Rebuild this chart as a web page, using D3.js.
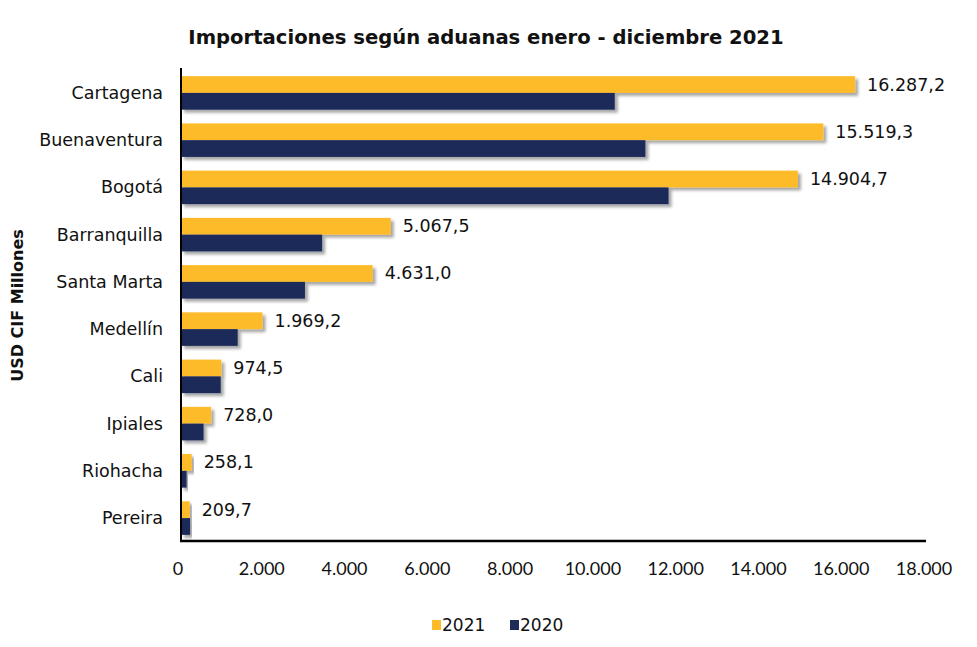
<html>
<head>
<meta charset="utf-8">
<script src="https://d3js.org/d3.v7.min.js"></script>
<style>
  body { margin: 0; background: white; }
  text { font-family: "DejaVu Sans", sans-serif; fill: #111; }
  .tick-label { font-family: "Lato", sans-serif; }
</style>
</head>
<body>
<svg id="chart"></svg>
<script>
// datos (USD CIF millones)
var aduanas = ["Cartagena", "Buenaventura", "Bogotá", "Barranquilla", "Santa Marta",
               "Medellín", "Cali", "Ipiales", "Riohacha", "Pereira"];
var valores2021 = [16287.2, 15519.3, 14904.7, 5067.5, 4631.0, 1969.2, 974.5, 728.0, 258.1, 209.7];
var valores2020 = [10480, 11220, 11780, 3410, 2995, 1370, 960, 545, 135, 220];
var series = ["2021", "2020"];
var ticks = [0, 2000, 4000, 6000, 8000, 10000, 12000, 14000, 16000, 18000];

var width = 977, height = 647;
var margins = { left: 181, right: 51, top: 70, bottom: 106 };

var svg = d3.select("#chart").attr("width", width).attr("height", height);

var es = d3.formatLocale({ decimal: ",", thousands: ".", grouping: [3], currency: ["", ""] });
var fmtLabel = es.format(",.1f");
var fmtTick = es.format(",.0f");

var colors = { "2021": "#FDBB2B", "2020": "#1F2C5A" };

// sombra de las barras
var defs = svg.append("defs");
defs.append("filter").attr("id", "shadow")
  .attr("x", "-10%").attr("y", "-30%").attr("width", "130%").attr("height", "180%")
  .append("feDropShadow")
  .attr("dx", 3).attr("dy", 3).attr("stdDeviation", 1.8)
  .attr("flood-color", "#000").attr("flood-opacity", 0.35);

var xScale = d3.scaleLinear().domain([0, 18000]).range([margins.left, width - margins.right]);
var yScale = d3.scaleBand().domain(aduanas)
  .range([margins.top, height - margins.bottom])
  .paddingInner(0.29).paddingOuter(0.13);
var ySub = d3.scaleBand().domain(series).range([0, yScale.bandwidth()]);

var rows = aduanas.map(function (a, i) {
  return { aduana: a, "2021": valores2021[i], "2020": valores2020[i] };
});

var groups = svg.append("g").selectAll("g")
  .data(rows).enter().append("g")
  .attr("transform", function (d) { return "translate(0," + yScale(d.aduana) + ")"; });

groups.selectAll("rect")
  .data(function (d) { return series.map(function (s) { return { s: s, v: d[s] }; }); })
  .enter().append("rect")
  .attr("x", xScale(0))
  .attr("y", function (d) { return ySub(d.s); })
  .attr("height", ySub.bandwidth())
  .attr("width", function (d) { return xScale(d.v) - xScale(0); })
  .attr("fill", function (d) { return colors[d.s]; })
  .attr("filter", "url(#shadow)");

// etiquetas 2021
groups.append("text")
  .attr("x", function (d) { return xScale(d["2021"]) + 12; })
  .attr("y", ySub("2021") + ySub.bandwidth() / 2)
  .attr("dominant-baseline", "central")
  .attr("font-size", 17.5)
  .text(function (d) { return fmtLabel(d["2021"]); });

// ejes
svg.append("line")
  .attr("x1", xScale(0)).attr("x2", xScale(0))
  .attr("y1", margins.top - 2).attr("y2", height - margins.bottom)
  .attr("stroke", "#000").attr("stroke-width", 2);
svg.append("line")
  .attr("x1", xScale(0) - 1).attr("x2", xScale(18000))
  .attr("y1", height - margins.bottom).attr("y2", height - margins.bottom)
  .attr("stroke", "#000").attr("stroke-width", 2.5);

svg.append("g").selectAll("text")
  .data(ticks).enter().append("text")
  .attr("class", "tick-label")
  .attr("x", function (d) { return xScale(d) - (d === 0 ? 3 : 2); })
  .attr("y", height - margins.bottom + 27)
  .attr("text-anchor", "middle")
  .attr("dominant-baseline", "central")
  .attr("font-size", 18)
  .text(function (d) { return fmtTick(d); });

svg.append("g").selectAll("text")
  .data(aduanas).enter().append("text")
  .attr("x", margins.left - 18)
  .attr("y", function (d) { return yScale(d) + yScale.bandwidth() / 2; })
  .attr("text-anchor", "end")
  .attr("dominant-baseline", "central")
  .attr("font-size", 17.5)
  .text(function (d) { return d; });

// titulos
svg.append("text")
  .attr("x", 486).attr("y", 37)
  .attr("text-anchor", "middle").attr("dominant-baseline", "central")
  .attr("font-size", 19.6).attr("font-weight", 700)
  .text("Importaciones según aduanas enero - diciembre 2021");

svg.append("text")
  .attr("transform", "translate(17," + ((margins.top + height - margins.bottom) / 2) + ")rotate(-90)")
  .attr("text-anchor", "middle").attr("dominant-baseline", "central")
  .attr("font-size", 16).attr("font-weight", 700)
  .text("USD CIF Millones");

// leyenda
var legend = svg.append("g").selectAll("g")
  .data(series).enter().append("g")
  .attr("transform", function (d, i) { return "translate(" + (432 + i * 78) + ",625)"; });
legend.append("rect")
  .attr("x", 0).attr("y", -5).attr("width", 9).attr("height", 10)
  .attr("fill", function (d) { return colors[d]; });
legend.append("text")
  .attr("x", 10).attr("y", 0)
  .attr("dominant-baseline", "central")
  .attr("font-size", 17)
  .text(function (d) { return d; });
</script>
</body>
</html>
